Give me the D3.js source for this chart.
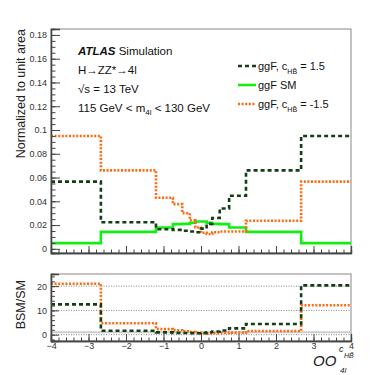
<!DOCTYPE html>
<html lang="en">
<head>
<meta charset="UTF-8">
<title>ATLAS OO c_HB histogram</title>
<script src="https://d3js.org/d3.v7.min.js"></script>
<style>
  body { margin: 0; background: white; }
  svg { font-family: "Liberation Sans", Arial, sans-serif; }
  .axis path { stroke: #444; }
  .axis line { stroke: #444; }
  .axis text { font-size: 9px; fill: #333; }
</style>
</head>
<body>
<svg></svg>
<script>
    // bin edges of the observable
    var binEdges = [-4, -2.67, -1.2, -0.75, -0.5, -0.3, -0.15, 0, 0.15, 0.3, 0.5, 0.75, 1.2, 2.67, 4];

    // normalized distributions
    var smValues   = [0.0048, 0.0143, 0.018, 0.0208, 0.021, 0.022, 0.023, 0.023, 0.022, 0.021, 0.0208, 0.018, 0.0143, 0.0048];
    var posValues  = [0.0566, 0.0224, 0.0165, 0.016, 0.0152, 0.0146, 0.014, 0.017, 0.021, 0.026, 0.034, 0.0447, 0.066, 0.095];
    var negValues  = [0.095, 0.066, 0.043, 0.0376, 0.03, 0.024, 0.018, 0.0135, 0.0125, 0.014, 0.0146, 0.0146, 0.0236, 0.0566];

    // ratio to SM
    var posRatio = [12.5, 1.6, 0.95, 0.75, 0.7, 0.65, 0.6, 0.75, 1.0, 1.3, 1.7, 2.6, 4.4, 20.3];
    var negRatio = [21, 4.7, 2.3, 1.8, 1.4, 1.1, 0.8, 0.6, 0.55, 0.65, 0.7, 0.85, 1.5, 12.1];

    var yTicksMain = [0, 0.02, 0.04, 0.06, 0.08, 0.1, 0.12, 0.14, 0.16, 0.18];
    var yTicksRatio = [0, 10, 20];
    var xTicks = [-4, -3, -2, -1, 0, 1, 2, 3, 4];

    var w = 390, h = 375;
    var left = 51, right = 351;
    var mainTop = 29, mainBottom = 253;
    var ratTop = 274, ratBottom = 341;

    var svg = d3.select("svg").attr("width", w).attr("height", h);

    var x = d3.scaleLinear().domain([-4, 4]).range([left, right]);
    var y = d3.scaleLinear().domain([-0.0035, 0.185]).range([mainBottom, mainTop]);
    var yr = d3.scaleLinear().domain([-2.6, 25]).range([ratBottom, ratTop]);

    function steps(vals) {
        var pts = vals.map(function(v, i) { return [binEdges[i], v]; });
        pts.push([binEdges[binEdges.length - 1], vals[vals.length - 1]]);
        return pts;
    }

    function fmt(d) { return d3.format("~g")(d).replace("-", "\u2212"); }

    // frames
    svg.append("rect").attr("x", left).attr("y", mainTop)
        .attr("width", right - left).attr("height", mainBottom - mainTop)
        .attr("fill", "none").attr("stroke", "#888").attr("stroke-width", 1);
    svg.append("rect").attr("x", left).attr("y", ratTop)
        .attr("width", right - left).attr("height", ratBottom - ratTop)
        .attr("fill", "none").attr("stroke", "#888").attr("stroke-width", 1);

    // ratio reference lines
    [10, 20, 0].forEach(function(v) {
        svg.append("line").attr("x1", left).attr("x2", right)
            .attr("y1", yr(v)).attr("y2", yr(v))
            .attr("stroke", "#555").attr("stroke-width", 0.7)
            .attr("stroke-dasharray", "1,1.5");
    });
    svg.append("line").attr("x1", left).attr("x2", right)
        .attr("y1", yr(1)).attr("y2", yr(1))
        .attr("stroke", "#ccc").attr("stroke-width", 2);

    var mainLine = d3.line().x(d => x(d[0])).y(d => y(d[1])).curve(d3.curveStepAfter);
    var ratLine = d3.line().x(d => x(d[0])).y(d => yr(d[1])).curve(d3.curveStepAfter);

    var styles = {
        pos: { color: "#143d14", dash: "4,3" },
        sm:  { color: "#11ee11", dash: null },
        neg: { color: "#ff6a10", dash: "2,1.6" }
    };

    function drawPath(gen, vals, st) {
        svg.append("path").datum(steps(vals))
            .attr("d", gen)
            .attr("fill", "none")
            .attr("stroke", st.color)
            .attr("stroke-width", 2.6)
            .attr("stroke-dasharray", st.dash);
    }

    drawPath(mainLine, smValues, styles.sm);
    drawPath(mainLine, negValues, styles.neg);
    drawPath(mainLine, posValues, styles.pos);

    drawPath(ratLine, negRatio, styles.neg);
    drawPath(ratLine, posRatio, styles.pos);

    // axes
    function minorTicks(lo, hi, step) {
        return d3.range(lo, hi + step / 2, step);
    }

    svg.append("g").attr("class", "axis")
        .attr("transform", "translate(" + left + ",0)")
        .call(d3.axisLeft(y).tickValues(yTicksMain).tickSize(-9).tickPadding(4).tickFormat(fmt));
    svg.append("g").attr("class", "axis")
        .attr("transform", "translate(" + left + ",0)")
        .call(d3.axisLeft(y).tickValues(minorTicks(0, 0.18, 0.005)).tickSize(-4.5).tickFormat(""));

    svg.append("g").attr("class", "axis")
        .attr("transform", "translate(0," + mainBottom + ")")
        .call(d3.axisBottom(x).tickValues(xTicks).tickSize(-7).tickFormat(""));
    svg.append("g").attr("class", "axis")
        .attr("transform", "translate(0," + mainBottom + ")")
        .call(d3.axisBottom(x).tickValues(minorTicks(-4, 4, 0.2)).tickSize(-3.5).tickFormat(""));

    svg.append("g").attr("class", "axis")
        .attr("transform", "translate(" + left + ",0)")
        .call(d3.axisLeft(yr).tickValues(yTicksRatio).tickSize(-8).tickPadding(4).tickFormat(fmt));
    svg.append("g").attr("class", "axis")
        .attr("transform", "translate(" + left + ",0)")
        .call(d3.axisLeft(yr).tickValues(minorTicks(-2, 24, 2)).tickSize(-4).tickFormat(""));

    svg.append("g").attr("class", "axis")
        .attr("transform", "translate(0," + ratBottom + ")")
        .call(d3.axisBottom(x).tickValues(xTicks).tickSize(-7).tickPadding(2).tickFormat(fmt));
    svg.append("g").attr("class", "axis")
        .attr("transform", "translate(0," + ratBottom + ")")
        .call(d3.axisBottom(x).tickValues(minorTicks(-4, 4, 0.2)).tickSize(-3.5).tickFormat(""));

    svg.selectAll(".axis .domain").attr("stroke-width", 1.3);

    // axis titles
    svg.append("text")
        .attr("transform", "translate(25," + mainTop + ") rotate(-90)")
        .attr("text-anchor", "end")
        .attr("font-size", 12.5)
        .attr("fill", "#222")
        .text("Normalized to unit area");
    svg.append("text")
        .attr("transform", "translate(25," + (ratTop + 6) + ") rotate(-90)")
        .attr("text-anchor", "end")
        .attr("font-size", 12.5)
        .attr("fill", "#222")
        .text("BSM/SM");

    var xt = svg.append("g").attr("fill", "#222");
    xt.append("text").attr("x", 313).attr("y", 366)
        .attr("font-size", 15).attr("font-style", "italic").text("OO");
    xt.append("text").attr("x", 339).attr("y", 352)
        .attr("font-size", 9).attr("font-style", "italic").text("c");
    xt.append("text").attr("x", 344).attr("y", 358)
        .attr("font-size", 7).attr("font-style", "italic").text("HB\u0303");
    xt.append("text").attr("x", 340).attr("y", 373)
        .attr("font-size", 8).attr("font-style", "italic").text("4l");

    // labels
    var lab = svg.append("g").attr("fill", "#111").attr("font-size", 11.5);
    var t1 = lab.append("text").attr("x", 78).attr("y", 55);
    t1.append("tspan").attr("font-weight", "bold").attr("font-style", "italic").text("ATLAS");
    t1.append("tspan").text(" Simulation");
    lab.append("text").attr("x", 78).attr("y", 74).text("H\u2192ZZ*\u21924l");
    lab.append("text").attr("x", 78).attr("y", 93).text("\u221As = 13 TeV");
    var t4 = lab.append("text").attr("x", 78).attr("y", 112);
    t4.append("tspan").text("115 GeV < m");
    t4.append("tspan").attr("font-size", 8).attr("dy", 3).text("4l");
    t4.append("tspan").attr("dy", -3).text(" < 130 GeV");

    // legend
    var legendItems = [
        { st: styles.pos, pre: "ggF, c", sub: "HB\u0303", post: " = 1.5" },
        { st: styles.sm, pre: "ggF SM", sub: null, post: "" },
        { st: styles.neg, pre: "ggF, c", sub: "HB\u0303", post: " = -1.5" }
    ];
    var leg = svg.append("g");
    legendItems.forEach(function(d, i) {
        var ly = 66 + i * 19;
        leg.append("line").attr("x1", 238).attr("x2", 256)
            .attr("y1", ly).attr("y2", ly)
            .attr("stroke", d.st.color).attr("stroke-width", 2.6)
            .attr("stroke-dasharray", d.st.dash);
        var t = leg.append("text").attr("x", 258).attr("y", ly + 4)
            .attr("font-size", 11).attr("fill", "#111");
        t.append("tspan").text(d.pre);
        if (d.sub) {
            t.append("tspan").attr("font-size", 7).attr("dy", 4).text(d.sub);
            t.append("tspan").attr("dy", -4).text(d.post);
        }
    });
</script>
</body>
</html>
